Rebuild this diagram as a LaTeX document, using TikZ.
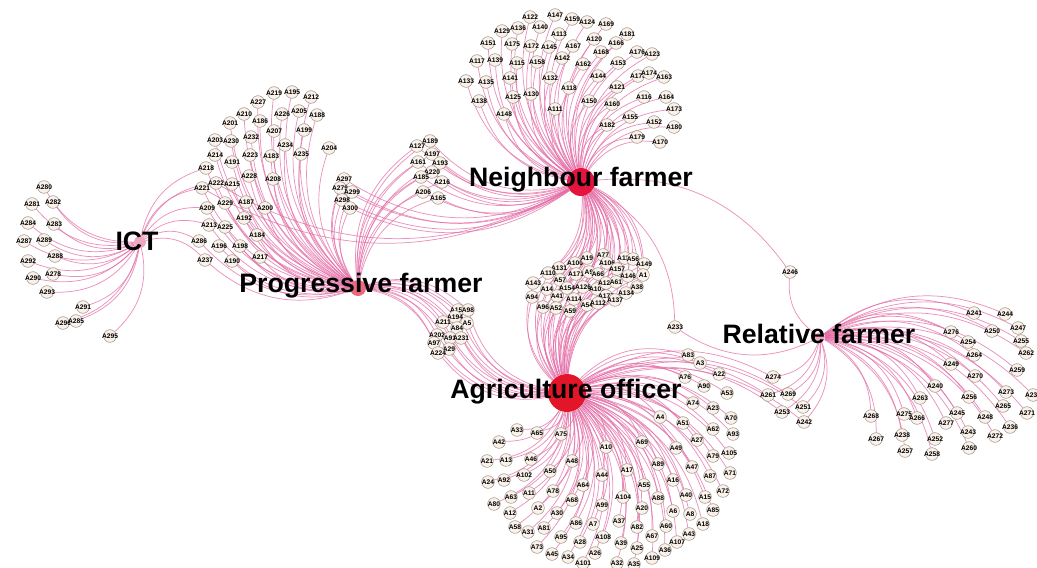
\documentclass[tikz,border=0pt]{standalone}
\usepackage{fontspec}
\setmainfont{Liberation Sans}
\pgfdeclarelayer{background}
\pgfdeclarelayer{edges}
\pgfsetlayers{background,edges,main}
\definecolor{edgepink}{RGB}{228,108,166}
\definecolor{leaffill}{RGB}{250,242,234}
\definecolor{leafline}{RGB}{150,135,125}
\definecolor{hubred}{RGB}{226,22,40}
\definecolor{hubnf}{RGB}{228,20,62}
\definecolor{hubpf}{RGB}{236,104,124}
\definecolor{hubsoft}{RGB}{240,168,192}

% respondents of each group: x/y/label
\def\Lic{44/187/A280, 32/204/A281, 53/202/A282, 28/223/A284, 54/224/A283,
  24/241/A287, 44/240/A289, 28/261/A292, 55/256/A288, 33/278/A290, 53/274/A278,
  47/292/A293, 83/307/A291, 63/323/A296, 76/321/A285, 110/336/A295}
\def\Lipn{202/188/A221, 216/183/A222}
\def\Lip{206/168/A218, 207/208/A209, 209/225/A213, 199/241/A286, 205/260/A237}
\def\Lp{274/93/A219, 292/92/A195, 311/97/A212, 258/102/A227, 244/114/A210,
  260/121/A186, 282/114/A226, 299/111/A205, 317/115/A188, 230/123/A201, 274/131/A207,
  304/130/A199, 215/140/A203, 231/141/A230, 251/137/A232, 285/145/A234, 329/148/A204,
  215/155/A214, 232/162/A191, 250/155/A223, 271/156/A183, 301/154/A235, 249/176/A228,
  273/179/A208, 232/184/A215, 225/203/A229, 246/202/A187, 265/208/A200, 244/218/A192,
  225/227/A225, 257/235/A184, 219/246/A196, 240/246/A198, 260/257/A217, 232/261/A190}
\def\Lpn{344/179/A297, 340/188/A279, 352/192/A299, 342/200/A298, 350/208/A300,
  430/141/A189, 417/146/A127, 432/154/A197, 418/162/A161, 440/163/A193, 432/172/A220,
  421/177/A185, 442/182/A216, 423/192/A206, 438/198/A165}
\def\Ln{530/17/A122, 555/15/A147, 572/19/A159, 587/22/A124, 606/24/A169,
  502/31/A129, 518/28/A136, 540/27/A140, 559/34/A113, 594/39/A120, 627/34/A181,
  488/43/A151, 512/44/A175, 531/46/A172, 549/47/A145, 573/46/A167, 616/43/A166,
  477/61/A117, 495/60/A139, 517/63/A115, 537/62/A158, 562/58/A142, 601/52/A168,
  637/52/A176, 652/54/A123, 583/64/A162, 618/63/A153, 466/81/A133, 486/82/A135,
  510/78/A141, 550/78/A132, 598/76/A144, 638/76/A178, 649/73/A174, 664/77/A163,
  617/87/A121, 479/101/A138, 513/97/A125, 531/94/A130, 569/88/A118, 589/101/A150,
  612/104/A160, 644/97/A116, 666/97/A164, 504/114/A148, 555/109/A111, 674/109/A173,
  630/117/A155, 607/125/A182, 654/122/A152, 674/127/A180, 637/137/A179, 660/142/A170}
\def\Lna{603/255/A77, 575/263/A100, 587/258/A19, 625/258/A119, 607/263/A106,
  617/269/A157, 633/259/A56, 644/264/A149, 559/268/A131, 548/273/A110, 576/274/A171,
  589/272/A9, 598/274/A66, 628/276/A146, 643/275/A1, 533/283/A143, 560/280/A57,
  567/288/A154, 583/287/A126, 597/289/A103, 606/283/A128, 616/282/A61, 637/287/A38,
  547/289/A14, 532/297/A94, 557/296/A41, 574/299/A114, 606/296/A177, 626/293/A134,
  615/300/A137, 543/307/A96, 556/308/A52, 570/311/A59, 587/305/A54, 598/303/A112}
\def\Lpa{458/310/A156, 468/310/A98, 455/317/A194, 443/322/A211, 467/323/A5,
  457/328/A84, 437/335/A202, 450/338/A91, 461/338/A231, 434/343/A97, 449/349/A29,
  438/353/A224}
\def\La{688/355/A83, 700/363/A3, 685/377/A76, 719/374/A22, 704/386/A90,
  727/393/A53, 693/403/A74, 713/408/A23, 660/417/A4, 683/423/A51, 731/418/A70,
  713/429/A62, 733/434/A93, 642/442/A69, 676/448/A49, 697/440/A27, 713/456/A79,
  729/453/A105, 606/447/A10, 692/467/A47, 710/476/A87, 723/491/A72, 730/473/A71,
  705/497/A15, 713/510/A85, 703/524/A18, 689/534/A43, 677/542/A107, 690/514/A8,
  686/495/A40, 517/430/A33, 537/433/A65, 561/434/A75, 499/442/A42, 658/464/A89,
  487/461/A21, 506/460/A13, 531/459/A46, 572/461/A48, 627/470/A17, 602/475/A44,
  488/482/A24, 504/480/A92, 524/475/A102, 550/471/A50, 583/485/A64, 673/480/A16,
  644/485/A55, 494/504/A80, 511/497/A63, 529/493/A11, 553/491/A78, 572/500/A68,
  623/497/A104, 658/498/A88, 510/513/A12, 538/508/A2, 557/513/A30, 602/505/A99,
  642/508/A20, 673/511/A6, 515/527/A58, 544/528/A81, 576/523/A86, 593/524/A7,
  619/521/A37, 666/526/A60, 637/527/A82, 528/532/A31, 561/537/A95, 603/537/A108,
  652/536/A67, 537/547/A73, 580/542/A28, 621/543/A39, 637/548/A25, 665/550/A36,
  552/554/A45, 568/557/A34, 595/553/A26, 583/563/A101, 617/563/A32, 634/564/A35,
  652/558/A109}
\def\Lar{773/377/A274, 768/395/A261, 788/394/A269, 782/412/A253,
  803/407/A251, 804/422/A242}
\def\Lnr{790/272/A246, 675/327/A233}
\def\Lr{974/313/A241, 1005/314/A244, 951/332/A276, 992/331/A250, 1018/328/A247,
  968/342/A254, 1021/341/A255, 974/355/A264, 1026/353/A262, 951/364/A249,
  1017/370/A259, 975/376/A270, 935/386/A240, 1006/392/A273, 1033/395/A239,
  920/398/A263, 969/397/A256, 1003/406/A265, 1027/413/A271, 871/416/A268,
  904/414/A275, 917/418/A266, 957/413/A245, 985/417/A248, 946/423/A277,
  1010/427/A236, 876/439/A267, 902/435/A238, 935/439/A252, 968/432/A243,
  995/436/A272, 905/451/A257, 932/454/A258, 969/448/A260}

% place the respondents of one group as named nodes
\newcommand\placegroup[2]{%
  \foreach \px/\py/\lab [count=\i] in #2 {%
    \node[leaf, label={[leaflbl]center:\lab}] (#1\i) at (\px,\py) {};
  }%
}
% join every respondent of a group to each of its sources
\newcommand\linkgroup[3]{%
  \foreach \px/\py/\lab [count=\i] in #3 {%
    \foreach \h in {#2} {\draw[edge] (\h) to[bend left=30] (#1\i);}
  }%
}

\begin{document}
\begin{tikzpicture}[x=0.75pt,y=-0.75pt,
  leaf/.style={circle, draw=leafline, fill=leaffill, line width=0.35pt,
               minimum size=9.5pt, inner sep=0pt},
  leaflbl/.style={font=\fontsize{5}{5}\selectfont\bfseries, inner sep=0pt, text=black},
  edge/.style={draw=edgepink, line width=0.55pt, opacity=0.75},
  hub/.style={circle, inner sep=0pt, draw=none},
  hubtext/.style={font=\fontsize{20}{22}\selectfont\bfseries, inner sep=0pt,
                  anchor=base, text=black}
]
\begin{pgfonlayer}{background}
\fill[white] (0,0) rectangle (1037,567);
\end{pgfonlayer}
\useasboundingbox (0,0) rectangle (1037,567);

% information sources
\node[hub, fill=hubsoft, minimum size=9pt]   (ict) at (140,242) {};
\node[hub, fill=hubpf,   minimum size=12pt]  (pf)  at (358,288) {};
\node[hub, fill=hubnf,   minimum size=21pt]  (nf)  at (581,182) {};
\node[hub, fill=hubred,  minimum size=28.5pt](ao)  at (567,393) {};
\node[hub, fill=hubsoft, minimum size=7.5pt] (rf)  at (820,337) {};

% respondents
\placegroup{ic}{\Lic}
\placegroup{ipn}{\Lipn}
\placegroup{ip}{\Lip}
\placegroup{p}{\Lp}
\placegroup{pn}{\Lpn}
\placegroup{n}{\Ln}
\placegroup{na}{\Lna}
\placegroup{pa}{\Lpa}
\placegroup{a}{\La}
\placegroup{ar}{\Lar}
\placegroup{nr}{\Lnr}
\placegroup{r}{\Lr}

% links, kept beneath the nodes
\begin{pgfonlayer}{edges}
\linkgroup{ic}{ict}{\Lic}
\linkgroup{ipn}{ict,pf,nf}{\Lipn}
\linkgroup{ip}{ict,pf}{\Lip}
\linkgroup{p}{pf}{\Lp}
\linkgroup{pn}{pf,nf}{\Lpn}
\linkgroup{n}{nf}{\Ln}
\linkgroup{na}{nf,ao}{\Lna}
\linkgroup{pa}{pf,ao}{\Lpa}
\linkgroup{a}{ao}{\La}
\linkgroup{ar}{ao,rf}{\Lar}
\linkgroup{nr}{nf,rf}{\Lnr}
\linkgroup{r}{rf}{\Lr}
\end{pgfonlayer}

% source names
\node[hubtext] (ict-name) at (137,250) {ICT};
\node[hubtext] (pf-name)  at (361,292) {Progressive farmer};
\node[hubtext] (nf-name)  at (581,186) {Neighbour farmer};
\node[hubtext] (ao-name)  at (566,398) {Agriculture officer};
\node[hubtext] (rf-name)  at (819,343) {Relative farmer};
\end{tikzpicture}
\end{document}
